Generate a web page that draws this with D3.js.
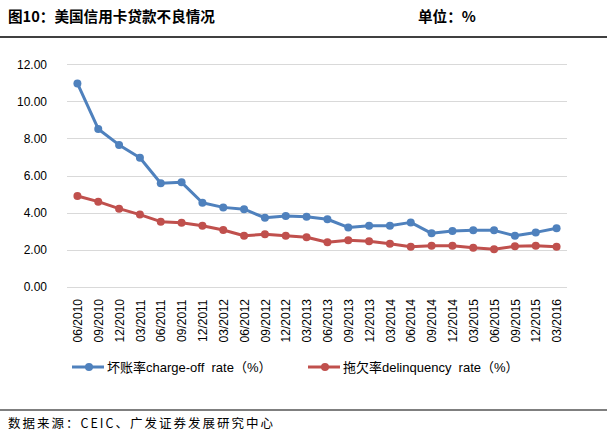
<!DOCTYPE html>
<html>
<head>
<meta charset="utf-8">
<script src="https://cdn.jsdelivr.net/npm/d3@7"></script>
<style>
	body{margin:0;background:#fff;}
	text{font-family:"Liberation Sans","Noto Sans CJK SC",sans-serif;}
	.title{font-family:"Noto Sans CJK SC",sans-serif;font-weight:bold;font-size:14.6px;fill:#000;}
	.tick text{font-size:12px;fill:#000;}
	.legend text{font-size:13px;fill:#000;white-space:pre;}
	.source{font-family:"Noto Sans CJK SC",sans-serif;font-size:12.5px;letter-spacing:2px;fill:#000;}
</style>
</head>
<body>
<div id="chart"></div>
<script>
// dados
var quarters = ["06/2010","09/2010","12/2010","03/2011","06/2011","09/2011","12/2011","03/2012",
	"06/2012","09/2012","12/2012","03/2013","06/2013","09/2013","12/2013","03/2014",
	"06/2014","09/2014","12/2014","03/2015","06/2015","09/2015","12/2015","03/2016"];
var chargeOff = [10.97,8.51,7.65,6.96,5.58,5.63,4.53,4.28,4.18,3.72,3.81,3.78,
	3.64,3.20,3.29,3.29,3.47,2.88,3.00,3.04,3.04,2.75,2.93,3.15];
var delinquency = [4.89,4.59,4.21,3.89,3.51,3.45,3.29,3.06,2.75,2.83,2.75,2.67,
	2.40,2.50,2.45,2.32,2.16,2.21,2.21,2.10,2.02,2.18,2.21,2.16];
var yTicks = [0,2,4,6,8,10,12];
var seriesNames = ["坏账率charge-off  rate（%）","拖欠率delinquency  rate（%）"];

var W = 607, H = 441;
var plot = {left:67, right:567, top:64.3, bottom:286.7};
var colors = ["#4f81bd","#c0504d"];

var svg = d3.select('#chart').append('svg').attr('width',W).attr('height',H);

// cabeçalho
svg.append('text').attr('class','title').attr('x',8).attr('y',22).text('图10：美国信用卡贷款不良情况');
svg.append('text').attr('class','title').attr('x',418).attr('y',22).text('单位：%');
svg.append('line').attr('x1',0).attr('x2',W).attr('y1',37).attr('y2',37)
	.attr('stroke','#000').attr('stroke-width',1.5);

var x = d3.scalePoint().domain(quarters).range([plot.left,plot.right]).padding(0.5);
var y = d3.scaleLinear().domain([0,12]).range([plot.bottom,plot.top]);

// grade
svg.append('g').selectAll('line').data(yTicks).enter().append('line')
	.attr('x1',plot.left).attr('x2',plot.right)
	.attr('y1',function(d){return Math.round(y(d))+0.5;})
	.attr('y2',function(d){return Math.round(y(d))+0.5;})
	.attr('stroke','#d9d9d9').attr('stroke-width',1);

var yAxis = svg.append('g').attr('transform','translate(50,0)')
	.call(d3.axisLeft(y).tickValues(yTicks).tickFormat(d3.format('.2f')).tickSize(0));
yAxis.select('.domain').remove();
yAxis.selectAll('text').attr('dx',0);

var xAxis = svg.append('g').attr('transform','translate(0,'+(plot.bottom+8)+')')
	.call(d3.axisBottom(x).tickSize(0));
xAxis.select('.domain').remove();
xAxis.selectAll('text')
	.attr('transform','rotate(-90)')
	.attr('x',-26).attr('y',0).attr('dy','0.35em')
	.style('text-anchor','middle');

var line = d3.line().x(function(d,i){return x(quarters[i]);}).y(function(d){return y(d);});

[chargeOff, delinquency].forEach(function(serie, k){
	var g = svg.append('g');
	g.append('path').datum(serie).attr('d',line).attr('fill','none')
		.attr('stroke',colors[k]).attr('stroke-width',3).attr('stroke-linejoin','round');
	g.selectAll('circle').data(serie).enter().append('circle')
		.attr('cx',function(d,i){return x(quarters[i]);})
		.attr('cy',function(d){return y(d);})
		.attr('r',4).attr('fill',colors[k]);
});

// legenda
var legX = [72, 308];
var legend = svg.append('g').attr('class','legend');
seriesNames.forEach(function(nome, k){
	var lg = legend.append('g').attr('transform','translate('+legX[k]+',367)');
	lg.append('line').attr('x1',0).attr('x2',32).attr('stroke',colors[k]).attr('stroke-width',3);
	lg.append('circle').attr('cx',17).attr('r',4).attr('fill',colors[k]);
	lg.append('text').attr('x',35).attr('dy','0.35em').text(nome);
});

// rodapé
svg.append('line').attr('x1',0).attr('x2',W).attr('y1',410).attr('y2',410)
	.attr('stroke','#000').attr('stroke-width',1.2);
svg.append('text').attr('class','source').attr('x',8).attr('y',428).text('数据来源：CEIC、广发证券发展研究中心');
</script>
</body>
</html>
